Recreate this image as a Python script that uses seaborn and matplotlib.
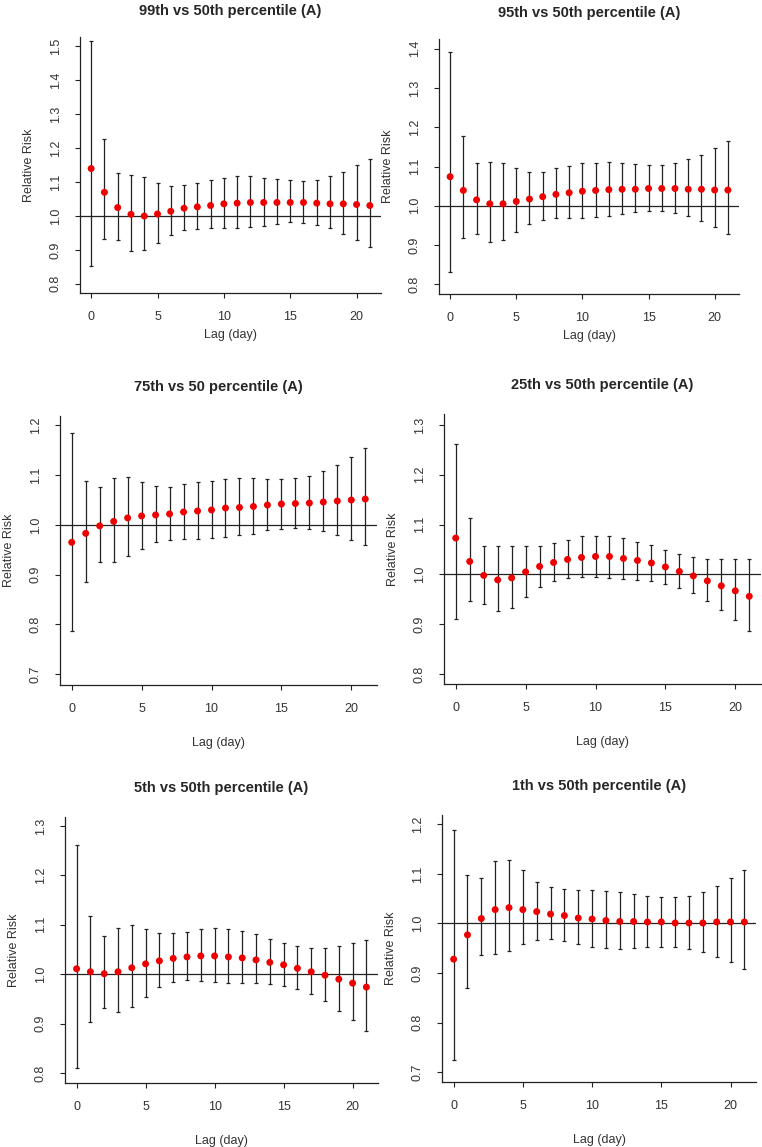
import numpy as np
import pandas as pd
import seaborn as sns
import matplotlib
matplotlib.use('Agg')
import matplotlib.pyplot as plt

# lag days 0..21
lags = list(range(22))

# 99th vs 50th
rr99 = [1.140, 1.070, 1.025, 1.005, 1.000, 1.006, 1.014, 1.023, 1.027, 1.031, 1.036,
        1.038, 1.040, 1.040, 1.040, 1.040, 1.040, 1.038, 1.036, 1.036, 1.034, 1.031]
lo99 = [0.853, 0.931, 0.929, 0.896, 0.899, 0.920, 0.945, 0.958, 0.961, 0.964, 0.964,
        0.966, 0.969, 0.972, 0.976, 0.981, 0.979, 0.974, 0.964, 0.948, 0.929, 0.909]
hi99 = [1.515, 1.226, 1.126, 1.122, 1.115, 1.098, 1.088, 1.091, 1.096, 1.106, 1.112,
        1.117, 1.117, 1.112, 1.108, 1.106, 1.103, 1.107, 1.117, 1.131, 1.150, 1.167]

# 95th vs 50th
rr95 = [1.074, 1.039, 1.015, 1.005, 1.005, 1.011, 1.017, 1.023, 1.029, 1.033, 1.037,
        1.039, 1.041, 1.042, 1.042, 1.044, 1.044, 1.044, 1.042, 1.042, 1.040, 1.040]
lo95 = [0.830, 0.917, 0.929, 0.908, 0.912, 0.934, 0.953, 0.963, 0.968, 0.969, 0.969,
        0.971, 0.975, 0.978, 0.983, 0.986, 0.986, 0.982, 0.975, 0.961, 0.946, 0.929]
hi95 = [1.391, 1.177, 1.108, 1.112, 1.109, 1.095, 1.087, 1.087, 1.095, 1.102, 1.108,
        1.110, 1.112, 1.110, 1.106, 1.105, 1.105, 1.108, 1.118, 1.130, 1.148, 1.165]

# 75th vs 50
rr75 = [0.965, 0.983, 0.998, 1.007, 1.014, 1.018, 1.020, 1.022, 1.026, 1.028, 1.030,
        1.034, 1.035, 1.037, 1.040, 1.042, 1.043, 1.044, 1.046, 1.048, 1.050, 1.052]
lo75 = [0.787, 0.886, 0.925, 0.926, 0.937, 0.952, 0.965, 0.970, 0.972, 0.972, 0.974,
        0.976, 0.979, 0.982, 0.989, 0.991, 0.993, 0.991, 0.988, 0.980, 0.970, 0.959]
hi75 = [1.184, 1.088, 1.076, 1.094, 1.096, 1.087, 1.079, 1.077, 1.082, 1.086, 1.089,
        1.092, 1.094, 1.094, 1.092, 1.092, 1.094, 1.098, 1.109, 1.121, 1.136, 1.154]

# 25th vs 50th
rr25 = [1.073, 1.026, 0.998, 0.989, 0.993, 1.005, 1.016, 1.024, 1.030, 1.034, 1.036,
        1.036, 1.032, 1.028, 1.023, 1.015, 1.006, 0.997, 0.987, 0.977, 0.967, 0.956]
lo25 = [0.910, 0.947, 0.941, 0.927, 0.933, 0.954, 0.974, 0.987, 0.993, 0.995, 0.995,
        0.993, 0.991, 0.989, 0.987, 0.981, 0.973, 0.962, 0.946, 0.928, 0.909, 0.887]
hi25 = [1.262, 1.113, 1.057, 1.057, 1.057, 1.057, 1.058, 1.063, 1.070, 1.077, 1.078,
        1.078, 1.073, 1.066, 1.059, 1.048, 1.040, 1.034, 1.031, 1.030, 1.030, 1.030]

# 5th vs 50th
rr05 = [1.011, 1.005, 1.001, 1.005, 1.013, 1.021, 1.027, 1.032, 1.035, 1.037, 1.037,
        1.035, 1.033, 1.029, 1.024, 1.019, 1.012, 1.005, 0.998, 0.990, 0.982, 0.974]
lo05 = [0.810, 0.904, 0.932, 0.923, 0.933, 0.954, 0.975, 0.985, 0.988, 0.987, 0.985,
        0.983, 0.982, 0.982, 0.980, 0.977, 0.971, 0.959, 0.945, 0.926, 0.907, 0.885]
hi05 = [1.262, 1.117, 1.078, 1.093, 1.100, 1.091, 1.083, 1.083, 1.086, 1.091, 1.093,
        1.091, 1.087, 1.081, 1.072, 1.064, 1.057, 1.053, 1.053, 1.058, 1.063, 1.069]

# 1th vs 50th
rr01 = [0.928, 0.977, 1.010, 1.028, 1.032, 1.028, 1.024, 1.019, 1.016, 1.011, 1.009,
        1.006, 1.004, 1.004, 1.003, 1.003, 1.001, 1.001, 1.001, 1.003, 1.003, 1.003]
lo01 = [0.725, 0.869, 0.936, 0.939, 0.945, 0.958, 0.967, 0.968, 0.964, 0.958, 0.953,
        0.951, 0.949, 0.951, 0.953, 0.953, 0.953, 0.949, 0.943, 0.933, 0.922, 0.909]
hi01 = [1.189, 1.098, 1.092, 1.127, 1.128, 1.107, 1.084, 1.073, 1.069, 1.067, 1.067,
        1.065, 1.063, 1.059, 1.056, 1.053, 1.053, 1.056, 1.064, 1.076, 1.091, 1.107]

titles = ["99th vs 50th percentile (A)", "95th vs 50th percentile (A)",
          "75th vs 50 percentile (A)", "25th vs 50th percentile (A)",
          "5th vs 50th percentile (A)", "1th vs 50th percentile (A)"]
panels = [(rr99, lo99, hi99), (rr95, lo95, hi95), (rr75, lo75, hi75),
          (rr25, lo25, hi25), (rr05, lo05, hi05), (rr01, lo01, hi01)]
yticks = [[0.8, 0.9, 1.0, 1.1, 1.2, 1.3, 1.4, 1.5],
          [0.8, 0.9, 1.0, 1.1, 1.2, 1.3, 1.4],
          [0.7, 0.8, 0.9, 1.0, 1.1, 1.2],
          [0.8, 0.9, 1.0, 1.1, 1.2, 1.3],
          [0.8, 0.9, 1.0, 1.1, 1.2, 1.3],
          [0.7, 0.8, 0.9, 1.0, 1.1, 1.2]]
ylims = [(0.773, 1.528), (0.775, 1.425), (0.678, 1.219),
         (0.780, 1.322), (0.780, 1.318), (0.680, 1.219)]

# pixel boxes (left, top, right, bottom) of each plot region
boxes = [(80, 37, 381, 293), (439, 39, 739, 294),
         (60, 416, 377, 685), (444, 414, 761, 684),
         (65, 817, 378, 1083), (442, 815, 756, 1082)]

W, H = 762, 1147
sns.set_style('ticks')
plt.rcParams['font.family'] = ['Liberation Sans', 'DejaVu Sans']

fig = plt.figure(figsize=(W / 100, H / 100), dpi=100)

for i in range(6):
    l, t, r, b = boxes[i]
    ax = fig.add_axes([l / W, 1 - b / H, (r - l) / W, (b - t) / H])
    rr, lo, hi = panels[i]
    df = pd.DataFrame({'lag': lags, 'rr': rr, 'lo': lo, 'hi': hi})

    ax.axhline(1.0, color='#222222', lw=0.9, zorder=1)
    ax.errorbar(df['lag'], df['rr'],
                yerr=[df['rr'] - df['lo'], df['hi'] - df['rr']],
                fmt='none', ecolor='#222222', elinewidth=0.9, capsize=1.3,
                capthick=0.9, zorder=2)
    sns.scatterplot(data=df, x='lag', y='rr', ax=ax, color='#ee0000', s=25,
                    edgecolor='none', zorder=3)

    ax.set_xlim(-0.84, 21.84)
    ax.set_ylim(*ylims[i])
    ax.set_xticks([0, 5, 10, 15, 20])
    ax.set_yticks(yticks[i])
    ax.set_yticklabels([f'{v:.1f}' for v in yticks[i]], rotation=90, va='center')
    ax.tick_params(axis='both', labelsize=9, colors='#222222', labelcolor='#333333',
                   length=3.5, width=0.8, pad=9.5)
    sns.despine(ax=ax)
    for s in ['left', 'bottom']:
        ax.spines[s].set_color('#222222')
        ax.spines[s].set_linewidth(0.9)

    ax.set_title(titles[i], fontsize=10.5, fontweight='bold', pad=16 if i < 2 else 18)
    ax.set_xlabel('Lag (day)', fontsize=9, color='#333333', labelpad=4 if i < 2 else 16)
    ax.set_ylabel('Relative Risk', fontsize=9, color='#333333', labelpad=11)

fig.savefig('out.png', dpi=100, facecolor='white')
